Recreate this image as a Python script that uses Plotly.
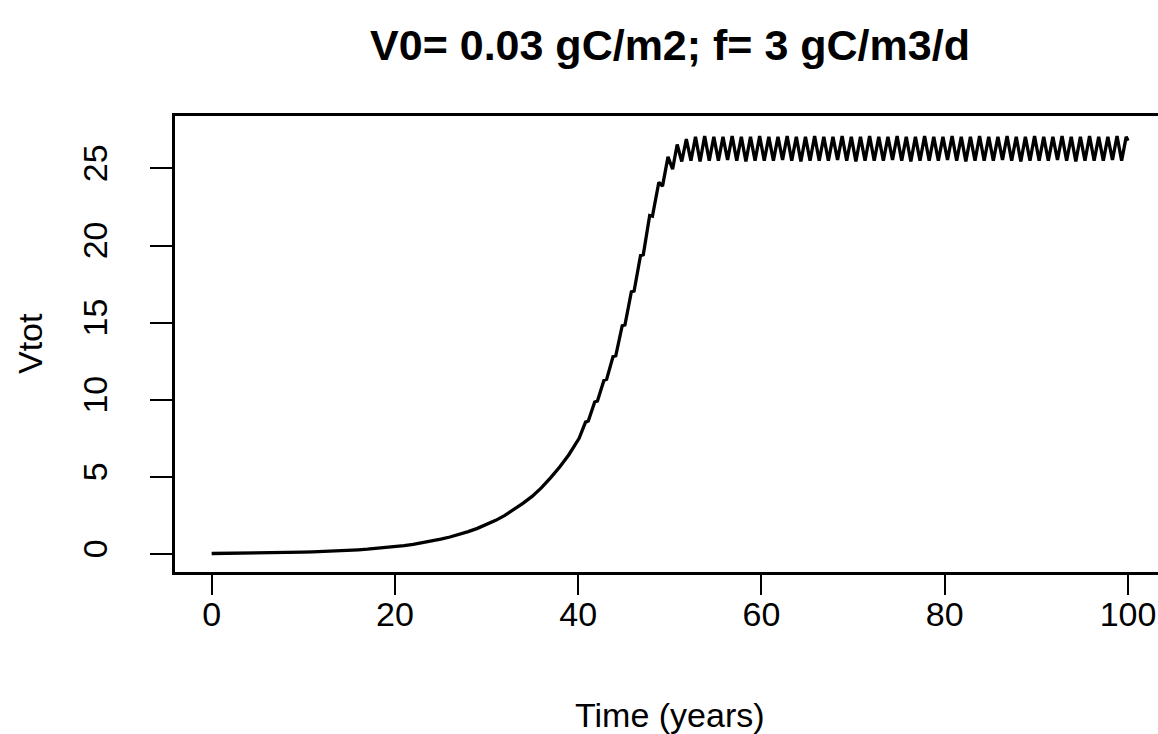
import plotly.graph_objects as go

# Slow exponential phase, one value per year (t = 0 ... 40)
growth_years = [0, 1, 2, 3, 4, 5, 6, 7, 8, 9, 10, 11, 12, 13, 14, 15, 16, 17, 18, 19, 20,
                21, 22, 23, 24, 25, 26, 27, 28, 29, 30, 31, 32, 33, 34, 35, 36, 37, 38, 39, 40]
growth_vtot = [0.03, 0.035, 0.04, 0.045, 0.052, 0.06, 0.068, 0.079, 0.09, 0.10, 0.12,
               0.135, 0.155, 0.18, 0.21, 0.24, 0.27, 0.31, 0.36, 0.41, 0.47,
               0.54, 0.62, 0.72, 0.83, 0.96, 1.1, 1.26, 1.45, 1.66, 1.9,
               2.18, 2.5, 2.87, 3.3, 3.75, 4.3, 4.95, 5.65, 6.45, 7.4]

# Seasonal growth: end of each pause (early in the year) and end of each
# growing season (late in the year), 40.1 ... 49.8
spurt_years = [
    40.1, 40.8, 41.1, 41.8, 42.1, 42.8, 43.1, 43.8, 44.1, 44.8,
    45.1, 45.8, 46.1, 46.8, 47.1, 47.8, 48.1, 48.8, 49.2, 49.8,
]
spurt_vtot = [
    7.5, 8.55, 8.62, 9.85, 9.92, 11.25, 11.32, 12.8, 12.85, 14.8,
    14.85, 17.0, 17.05, 19.35, 19.4, 21.95, 21.9, 24.1, 23.85, 25.75,
]

# Saturated phase: yearly low and high, 50.3 ... 100
plateau_years = [
    50.3, 50.8, 51.3, 51.8, 52.3, 52.8, 53.3, 53.8, 54.3, 54.8,
    55.3, 55.8, 56.3, 56.8, 57.3, 57.8, 58.3, 58.8, 59.3, 59.8,
    60.3, 60.8, 61.3, 61.8, 62.3, 62.8, 63.3, 63.8, 64.3, 64.8,
    65.3, 65.8, 66.3, 66.8, 67.3, 67.8, 68.3, 68.8, 69.3, 69.8,
    70.3, 70.8, 71.3, 71.8, 72.3, 72.8, 73.3, 73.8, 74.3, 74.8,
    75.3, 75.8, 76.3, 76.8, 77.3, 77.8, 78.3, 78.8, 79.3, 79.8,
    80.3, 80.8, 81.3, 81.8, 82.3, 82.8, 83.3, 83.8, 84.3, 84.8,
    85.3, 85.8, 86.3, 86.8, 87.3, 87.8, 88.3, 88.8, 89.3, 89.8,
    90.3, 90.8, 91.3, 91.8, 92.3, 92.8, 93.3, 93.8, 94.3, 94.8,
    95.3, 95.8, 96.3, 96.8, 97.3, 97.8, 98.3, 98.8, 99.3, 99.8,
    100.0,
]
plateau_vtot = [
    24.95, 26.55, 25.45, 26.9, 25.5, 27.05, 25.45, 27.1, 25.5, 27.05,
    25.5, 27.05, 25.55, 27.1, 25.5, 27.05, 25.45, 27.05, 25.5, 27.1,
    25.5, 27.05, 25.5, 27.05, 25.55, 27.1, 25.5, 27.05, 25.45, 27.05,
    25.5, 27.1, 25.5, 27.05, 25.5, 27.05, 25.55, 27.1, 25.5, 27.05,
    25.45, 27.05, 25.5, 27.1, 25.5, 27.05, 25.5, 27.05, 25.55, 27.1,
    25.5, 27.05, 25.45, 27.05, 25.5, 27.1, 25.5, 27.05, 25.5, 27.05,
    25.55, 27.1, 25.5, 27.05, 25.45, 27.05, 25.5, 27.1, 25.5, 27.05,
    25.5, 27.05, 25.55, 27.1, 25.5, 27.05, 25.45, 27.05, 25.5, 27.1,
    25.5, 27.05, 25.5, 27.05, 25.55, 27.1, 25.5, 27.05, 25.45, 27.05,
    25.5, 27.1, 25.5, 27.05, 25.5, 27.05, 25.55, 27.1, 25.5, 27.05,
    26.8,
]

x_ticks = [0, 20, 40, 60, 80, 100]
y_ticks = [0, 5, 10, 15, 20, 25]

title_text = "V0= 0.03 gC/m2; f= 3 gC/m3/d"
x_title = "Time (years)"
y_title = "Vtot"

FONT = "Liberation Sans, Arial, Helvetica, sans-serif"

fig = go.Figure()
fig.add_trace(go.Scatter(
    x=growth_years + spurt_years + plateau_years,
    y=growth_vtot + spurt_vtot + plateau_vtot,
    mode="lines",
    line=dict(color="black", width=3.3),
    showlegend=False,
    hoverinfo="skip",
))

fig.update_layout(
    width=1158,
    height=734,
    margin=dict(l=175, r=0, t=116, b=162),
    paper_bgcolor="white",
    plot_bgcolor="white",
    font=dict(family=FONT, size=34, color="black"),
    title=dict(
        text="<b>" + title_text + "</b>",
        font=dict(family=FONT, size=43, color="black"),
        x=670 / 1158, xanchor="center",
        y=1 - 45 / 734, yanchor="middle",
        xref="container", yref="container",
    ),
)

fig.update_xaxes(
    range=[-4, 103.27],
    tickvals=x_ticks,
    ticktext=[str(v) for v in x_ticks],
    ticks="outside", ticklen=20, tickwidth=2, tickcolor="black",
    ticklabelstandoff=-10,
    showline=True, linecolor="black", linewidth=2.5, mirror=True,
    showgrid=False, zeroline=False,
    tickfont=dict(family=FONT, size=34, color="black"),
)
fig.update_yaxes(
    range=[-1.17, 28.4],
    tickvals=y_ticks,
    ticktext=[str(v) for v in y_ticks],
    tickangle=-90,
    ticks="outside", ticklen=22, tickwidth=2, tickcolor="black",
    ticklabelstandoff=30,
    showline=True, linecolor="black", linewidth=2.5, mirror=False,
    showgrid=False, zeroline=False,
    tickfont=dict(family=FONT, size=34, color="black"),
)

fig.add_annotation(
    text=x_title, xref="x", yref="paper", x=50, y=(572 - 715) / 456,
    xanchor="center", yanchor="middle", showarrow=False,
    font=dict(family=FONT, size=34, color="black"),
)
fig.add_annotation(
    text=y_title, xref="paper", yref="paper", x=(30 - 175) / 983, y=0.5,
    xanchor="center", yanchor="middle", textangle=-90, showarrow=False,
    font=dict(family=FONT, size=34, color="black"),
)

fig.write_html("out.html")
